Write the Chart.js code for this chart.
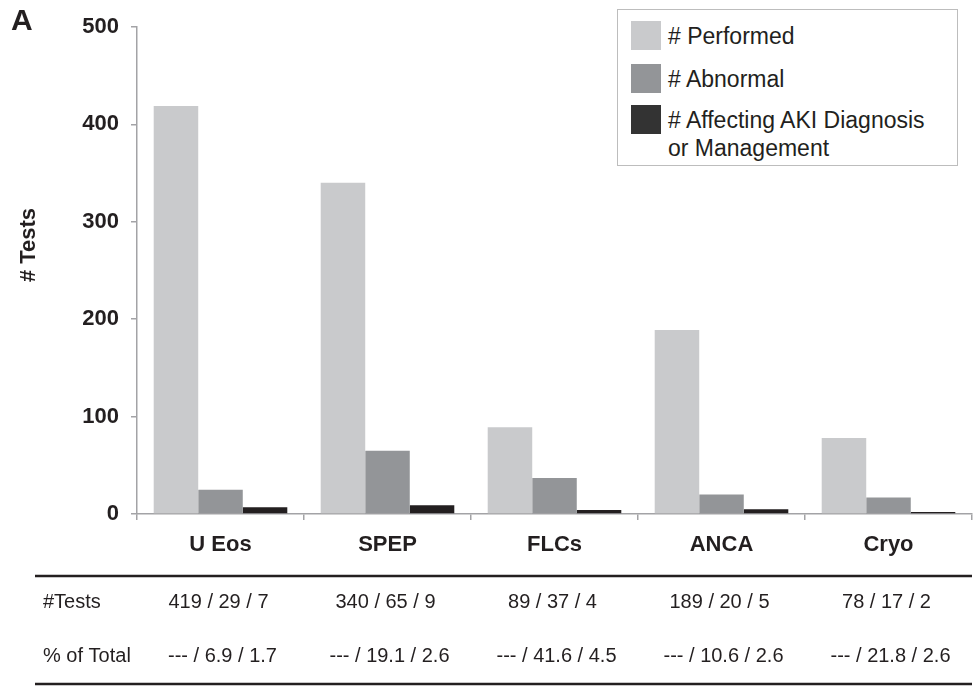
<!DOCTYPE html>
<html>
<head>
<meta charset="utf-8">
<script src="https://cdn.jsdelivr.net/npm/chart.js@4.4.1/dist/chart.umd.min.js"></script>
<style>
  html, body { margin: 0; padding: 0; background: #fff; }
  #wrap { position: relative; width: 975px; height: 687px; }
  #legend {
    position: absolute; left: 617px; top: 9px; width: 341px; height: 157px;
    box-sizing: border-box; border: 1px solid #bdbdbd; background: #fff;
    font-family: "Liberation Sans", Arial, sans-serif; font-size: 23px; color: #231f20;
  }
  .item { position: absolute; left: 13px; }
  .sw { position: absolute; left: 0; width: 30px; height: 29px; }
  .lab { position: absolute; left: 37px; white-space: nowrap; line-height: 28px; top: 1px; }
</style>
</head>
<body>
<div id="wrap">
  <canvas id="c" width="975" height="687"></canvas>
  <div id="legend"></div>
</div>
<script>
const categories = ["U Eos", "SPEP", "FLCs", "ANCA", "Cryo"];
const performed = [419, 340, 89, 189, 78];
const abnormal = [25, 65, 37, 20, 17];
const affecting = [7, 9, 4, 5, 2];
const seriesNames = ["# Performed", "# Abnormal", "# Affecting AKI Diagnosis\nor Management"];
const seriesColors = ["#c9cacc", "#939598", "#231f20"];
const legendColors = ["#c9cacc", "#939598", "#333333"];
const yTicks = [0, 100, 200, 300, 400, 500];

const testsRow = ["419 / 29 / 7", "340 / 65 / 9", "89 / 37 / 4", "189 / 20 / 5", "78 / 17 / 2"];
const pctRow = ["--- / 6.9 / 1.7", "--- / 19.1 / 2.6", "--- / 41.6 / 4.5", "--- / 10.6 / 2.6", "--- / 21.8 / 2.6"];

// legend (html, sits over the plot like the original)
const legend = document.getElementById("legend");
const legendTops = [11, 54, 95];
seriesNames.forEach((name, i) => {
  const it = document.createElement("div");
  it.className = "item";
  it.style.top = legendTops[i] + "px";
  it.innerHTML = `<div class="sw" style="background:${legendColors[i]}"></div><div class="lab">${name.replace("\n", "<br>")}</div>`;
  legend.appendChild(it);
});

const AX = "#a3a3a6";
const bold22 = { family: "'Liberation Sans', Arial, sans-serif", size: 22, weight: "bold" };

// extra text: panel letter, y title, table under the axis
const extras = {
  id: "extras",
  afterDraw(chart) {
    const ctx = chart.ctx;
    const x = chart.scales.x;
    ctx.save();
    ctx.fillStyle = "#231f20";
    ctx.font = "bold 30px 'Liberation Sans', Arial, sans-serif";
    ctx.textBaseline = "middle";
    ctx.textAlign = "left";
    ctx.fillText("A", 11, 22);

    ctx.translate(29, 245);
    ctx.rotate(-Math.PI / 2);
    ctx.textAlign = "center";
    ctx.font = "bold 22px 'Liberation Sans', Arial, sans-serif";
    ctx.fillText("# Tests", 0, 0);
    ctx.restore();

    ctx.save();
    ctx.strokeStyle = "#231f20";
    ctx.lineWidth = 2.5;
    ctx.beginPath();
    ctx.moveTo(35, 576); ctx.lineTo(972, 576);
    ctx.moveTo(35, 684); ctx.lineTo(972, 684);
    ctx.stroke();
    ctx.fillStyle = "#231f20";
    ctx.font = "20px 'Liberation Sans', Arial, sans-serif";
    ctx.textBaseline = "middle";
    ctx.textAlign = "left";
    ctx.fillText("#Tests", 43, 602);
    ctx.fillText("% of Total", 43, 656);
    ctx.textAlign = "center";
    categories.forEach((c, i) => {
      const cx = x.getPixelForValue(i);
      ctx.fillText(testsRow[i], cx - 2, 602);
      ctx.fillText(pctRow[i], cx + 2, 656);
    });
    ctx.restore();
  },
};

new Chart(document.getElementById("c"), {
  type: "bar",
  data: {
    labels: categories,
    datasets: [
      { label: seriesNames[0], data: performed, backgroundColor: seriesColors[0] },
      { label: seriesNames[1], data: abnormal, backgroundColor: seriesColors[1] },
      { label: seriesNames[2], data: affecting, backgroundColor: seriesColors[2] },
    ],
  },
  options: {
    responsive: false,
    animation: false,
    devicePixelRatio: 1,
    layout: { padding: { top: 27, right: 3, left: 0, bottom: 0 } },
    datasets: { bar: { categoryPercentage: 0.8, barPercentage: 1.0 } },
    plugins: { legend: { display: false }, tooltip: { enabled: false } },
    scales: {
      x: {
        afterFit: (s) => { s.height = 687 - 514; },
        grid: { offset: true, drawOnChartArea: false, drawTicks: true, tickLength: 6, color: AX, lineWidth: 1.5 },
        border: { color: AX, width: 1.5 },
        ticks: { color: "#231f20", font: bold22, padding: 12 },
      },
      y: {
        min: 0,
        max: 500,
        afterFit: (s) => { s.width = 137; },
        afterBuildTicks: (s) => { s.ticks = yTicks.map((v) => ({ value: v })); },
        grid: { drawOnChartArea: false, drawTicks: true, tickLength: 6, color: AX, lineWidth: 1.5 },
        border: { color: AX, width: 1.5 },
        ticks: { color: "#231f20", font: bold22, padding: 12 },
      },
    },
  },
  plugins: [extras],
});
</script>
</body>
</html>
